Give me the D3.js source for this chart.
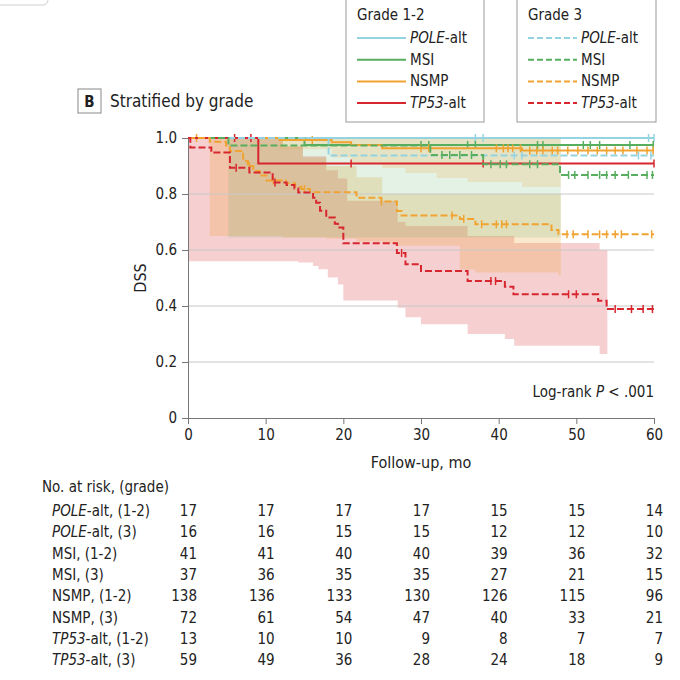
<!DOCTYPE html>
<html>
<head>
<meta charset="utf-8">
<script src="https://cdn.jsdelivr.net/npm/d3@7"></script>
<style>
  body { margin: 0; background: #fff; }
  svg text { font-family: "Liberation Sans Narrow", "DejaVu Sans Condensed", "Open Sans", sans-serif; fill: #222; }
</style>
</head>
<body>
<svg id="chart" width="680" height="680"></svg>
<script>
// ---- data ----
const months = [0, 10, 20, 30, 40, 50, 60];
const yTicks = [0, 0.2, 0.4, 0.6, 0.8, 1.0];

// Kaplan-Meier steps: [month, survival]
const poleG12 = [[0, 1]];
const poleG3 = [[0, 1], [18.1, 0.9375]];
const msiG12 = [[0, 1], [15, 0.975]];
const msiG3 = [[0, 1], [5.2, 0.973], [31.2, 0.939], [38, 0.906], [47.9, 0.868]];
const nsmpG12 = [[0, 1], [11.8, 0.993], [18.5, 0.985], [21, 0.975], [25, 0.963], [43, 0.955]];
const nsmpG3 = [[0, 1], [2.8, 0.987], [4.9, 0.973], [5.4, 0.954], [7.1, 0.918], [7.7, 0.9], [8.4, 0.882],
  [9.2, 0.866], [10.1, 0.848], [12.6, 0.838], [13.8, 0.826], [14.6, 0.818], [15.7, 0.806], [21.7, 0.787],
  [24.9, 0.773], [26.9, 0.739], [27.5, 0.723], [35, 0.711], [37, 0.692], [46.8, 0.671], [47.7, 0.656]];
const tp53G12 = [[0, 1], [9.05, 0.909]];
const tp53G3 = [[0, 1], [0.3, 0.966], [3.0, 0.948], [5.4, 0.894], [7.9, 0.877], [10.9, 0.841], [12.7, 0.832],
  [13.7, 0.82], [14.2, 0.805], [16.1, 0.787], [16.5, 0.769], [17, 0.74], [17.8, 0.716], [18.9, 0.694],
  [19.3, 0.68], [20, 0.624], [26.9, 0.589], [28, 0.549], [30, 0.525], [36, 0.489], [40.8, 0.469],
  [41.9, 0.442], [52.8, 0.419], [53.9, 0.389]];

// censoring marks (months)
const poleG12Cens = [37, 38, 59.3, 60];
const poleG3Cens = [42, 43, 58, 59.6];
const msiG12Cens = [30, 31, 36, 37, 45, 45.7, 50.9, 51.8, 53, 56.9, 59.9];
const msiG3Cens = [32.7, 33.7, 35, 36.5, 39, 40.2, 41, 44, 45, 49, 49.8, 51.5, 53, 53.9, 55, 56.7, 59.1, 59.8];
const nsmpG12Cens = [1.1, 16, 30, 31, 39.7, 40.6, 41.2, 41.8, 42.8, 44, 44.9, 45.7, 46.9, 47.6, 48.9, 50.2,
  51.5, 52.7, 53.9, 55, 56, 57.8, 59.1, 59.9];
const nsmpG3Cens = [7.9, 11, 15, 24.9, 34, 35.5, 37.8, 39.7, 40.4, 41, 48.8, 49.6, 51.5, 53, 53.9, 55, 55.8, 59.7];
const tp53G12Cens = [6, 8.1, 21, 38, 60];
const tp53G3Cens = [6.2, 11.2, 27.5, 39, 39.6, 49, 50, 55, 57.1, 58.6, 59.8];

// confidence bands: [month, lower, upper], band ends at *End
const tp53G3Band = [[0, 0.56, 1], [12.2, 0.56, 0.97], [14.2, 0.555, 0.97], [14.8, 0.555, 0.935], [16.1, 0.543, 0.935],
  [16.8, 0.531, 0.935], [17.8, 0.531, 0.885], [18, 0.502, 0.885], [19.3, 0.477, 0.855], [20, 0.42, 0.855],
  [20.5, 0.42, 0.776], [27, 0.394, 0.70], [28, 0.36, 0.686], [30, 0.335, 0.686], [36, 0.3, 0.65],
  [40.8, 0.282, 0.65], [42, 0.258, 0.625], [53, 0.229, 0.60]];
const tp53G3BandEnd = 54;
const nsmpG3Band = [[2.8, 0.65, 1], [12.2, 0.645, 0.97], [14.8, 0.645, 0.93], [17.8, 0.64, 0.9], [21.7, 0.63, 0.86],
  [25, 0.625, 0.8], [27, 0.615, 0.8], [35, 0.53, 0.8], [37, 0.52, 0.8], [47.7, 0.51, 0.8]];
const nsmpG3BandEnd = 48;
const msiG3Band = [[5.2, 0.645, 1]];
const msiG3BandEnd = 48;
const nsmpG12Band = [[11.8, 0.96, 1], [18.5, 0.93, 1], [21, 0.91, 1], [25, 0.893, 1], [28, 0.875, 1],
  [32, 0.857, 1], [36, 0.843, 1], [43, 0.825, 1]];
const nsmpG12BandEnd = 48;

// number at risk
const riskLabels = [["POLE", "-alt, (1-2)"], ["POLE", "-alt, (3)"], ["", "MSI, (1-2)"], ["", "MSI, (3)"],
  ["", "NSMP, (1-2)"], ["", "NSMP, (3)"], ["TP53", "-alt, (1-2)"], ["TP53", "-alt, (3)"]];
const riskPoleG12 = [17, 17, 17, 17, 15, 15, 14];
const riskPoleG3 = [16, 16, 15, 15, 12, 12, 10];
const riskMsiG12 = [41, 41, 40, 40, 39, 36, 32];
const riskMsiG3 = [37, 36, 35, 35, 27, 21, 15];
const riskNsmpG12 = [138, 136, 133, 130, 126, 115, 96];
const riskNsmpG3 = [72, 61, 54, 47, 40, 33, 21];
const riskTp53G12 = [13, 10, 10, 9, 8, 7, 7];
const riskTp53G3 = [59, 49, 36, 28, 24, 18, 9];

// legend
const legendItems = [["POLE", "-alt"], ["", "MSI"], ["", "NSMP"], ["TP53", "-alt"]];

// ---- drawing ----
const colPole = "#96d3e0", colMsi = "#58ae5f", colNsmp = "#f0a330", colTp53 = "#d8262f";

const svg = d3.select("#chart");
const x = d3.scaleLinear().domain([0, 60]).range([188, 654]);
const y = d3.scaleLinear().domain([0, 1]).range([418, 138]);

// decoration at the top-left corner
svg.append("rect").attr("x", -10).attr("y", -20).attr("width", 58).attr("height", 25).attr("rx", 5)
  .attr("fill", "none").attr("stroke", "#cfcfcf");

// bands
const area = d3.area().curve(d3.curveStepAfter)
  .x(d => x(d[0])).y0(d => y(d[1])).y1(d => y(d[2]));
[[tp53G3Band, tp53G3BandEnd, colTp53, 0.22], [nsmpG3Band, nsmpG3BandEnd, colNsmp, 0.24],
 [msiG3Band, msiG3BandEnd, colMsi, 0.16], [nsmpG12Band, nsmpG12BandEnd, colNsmp, 0.18]].forEach(([b, end, c, op]) => {
  const last = b[b.length - 1];
  svg.append("path")
    .attr("d", area(b.concat([[end, last[1], last[2]]])))
    .attr("fill", c).attr("fill-opacity", op);
});

// grid
svg.append("g").selectAll("line").data(yTicks.filter(d => d > 0)).enter().append("line")
  .attr("x1", x(0)).attr("x2", x(60)).attr("y1", d => y(d)).attr("y2", d => y(d))
  .attr("stroke", "#c8c8c8").attr("stroke-width", 1);

// axes
const xAxis = svg.append("g").attr("transform", `translate(0,${y(0)})`)
  .call(d3.axisBottom(x).tickValues(months).tickSize(6).tickPadding(5));
const yAxis = svg.append("g").attr("transform", `translate(${x(0)},0)`)
  .call(d3.axisLeft(y).tickValues(yTicks).tickSize(6).tickPadding(5)
    .tickFormat(d => d === 0 ? "0" : d3.format(".1f")(d)));
[xAxis, yAxis].forEach(g => {
  g.selectAll("path, line").attr("stroke", "#777");
  g.selectAll("text").attr("font-size", 15).attr("fill", "#222");
});

// survival curves
const line = d3.line().curve(d3.curveStepAfter).x(d => x(d[0])).y(d => y(d[1]));
function survAt(steps, t) {
  let s = steps[0][1];
  steps.forEach(p => { if (p[0] <= t) s = p[1]; });
  return s;
}
function drawCurve(steps, cens, color, dashed) {
  const pts = steps.concat([[60, steps[steps.length - 1][1]]]);
  svg.append("path").attr("d", line(pts)).attr("fill", "none")
    .attr("stroke", color).attr("stroke-width", 2)
    .attr("stroke-dasharray", dashed ? "7,3" : null);
  svg.append("g").selectAll("line").data(cens).enter().append("line")
    .attr("x1", d => x(d)).attr("x2", d => x(d))
    .attr("y1", d => y(survAt(steps, d)) - 4).attr("y2", d => y(survAt(steps, d)) + 4)
    .attr("stroke", color).attr("stroke-width", 1.5);
}
drawCurve(poleG12, poleG12Cens, colPole, false);
drawCurve(msiG12, msiG12Cens, colMsi, false);
drawCurve(nsmpG12, nsmpG12Cens, colNsmp, false);
drawCurve(tp53G12, tp53G12Cens, colTp53, false);
drawCurve(poleG3, poleG3Cens, colPole, true);
drawCurve(msiG3, msiG3Cens, colMsi, true);
drawCurve(nsmpG3, nsmpG3Cens, colNsmp, true);
drawCurve(tp53G3, tp53G3Cens, colTp53, true);

// axis titles
svg.append("text").attr("transform", `translate(146,${y(0.5)}) rotate(-90)`)
  .attr("text-anchor", "middle").attr("font-size", 16).text("DSS");
svg.append("text").attr("x", x(30)).attr("y", 468).attr("text-anchor", "middle")
  .attr("font-size", 16).text("Follow-up, mo");

// log-rank
const lr = svg.append("text").attr("x", x(60)).attr("y", 397).attr("text-anchor", "end").attr("font-size", 15);
lr.append("tspan").text("Log-rank ");
lr.append("tspan").attr("font-style", "italic").text("P");
lr.append("tspan").text(" < .001");

// panel label
svg.append("rect").attr("x", 78).attr("y", 89).attr("width", 23).attr("height", 24)
  .attr("fill", "none").attr("stroke", "#888");
svg.append("text").attr("x", 89.5).attr("y", 107).attr("text-anchor", "middle")
  .attr("font-size", 15).attr("font-weight", "bold").text("B");
svg.append("text").attr("x", 110).attr("y", 107).attr("font-size", 17).text("Stratified by grade");

// legends
function legend(x0, w, title, dashed) {
  const g = svg.append("g");
  g.append("rect").attr("x", x0).attr("y", -6).attr("width", w).attr("height", 128)
    .attr("fill", "#fff").attr("stroke", "#999");
  g.append("text").attr("x", x0 + 11).attr("y", 20).attr("font-size", 15).text(title);
  const cols = [colPole, colMsi, colNsmp, colTp53];
  legendItems.forEach((it, i) => {
    const yy = 38 + i * 21.7;
    g.append("line").attr("x1", x0 + 11).attr("x2", x0 + 60).attr("y1", yy).attr("y2", yy)
      .attr("stroke", cols[i]).attr("stroke-width", 2).attr("stroke-dasharray", dashed ? "6,3" : null);
    const t = g.append("text").attr("x", x0 + 64).attr("y", yy + 5).attr("font-size", 15);
    if (it[0]) t.append("tspan").attr("font-style", "italic").text(it[0]);
    t.append("tspan").text(it[1]);
  });
}
legend(346, 138, "Grade 1-2", false);
legend(517, 139, "Grade 3", true);

// number at risk table
svg.append("text").attr("x", 42).attr("y", 492).attr("font-size", 15).text("No. at risk, (grade)");
const riskRows = [riskPoleG12, riskPoleG3, riskMsiG12, riskMsiG3, riskNsmpG12, riskNsmpG3, riskTp53G12, riskTp53G3];
riskRows.forEach((row, i) => {
  const yy = 516 + i * 21.3;
  const t = svg.append("text").attr("x", 52).attr("y", yy).attr("font-size", 15);
  if (riskLabels[i][0]) t.append("tspan").attr("font-style", "italic").text(riskLabels[i][0]);
  t.append("tspan").text(riskLabels[i][1]);
  svg.append("g").selectAll("text").data(row).enter().append("text")
    .attr("x", (d, j) => x(months[j]) + 9).attr("y", yy).attr("text-anchor", "end")
    .attr("font-size", 15).text(d => d);
});
</script>
</body>
</html>
